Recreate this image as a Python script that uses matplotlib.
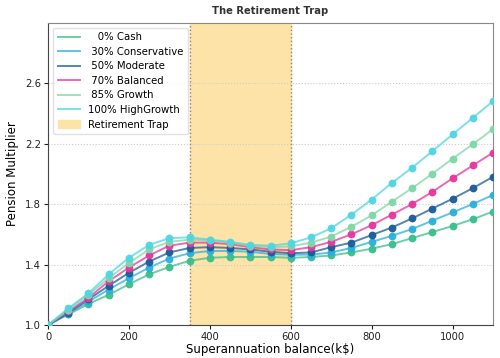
import matplotlib
matplotlib.use('Agg')
import matplotlib.pyplot as plt

# Data
balance = [0, 50, 100, 150, 200, 250, 300, 350, 400, 450, 500, 550,
           600, 650, 700, 750, 800, 850, 900, 950, 1000, 1050, 1100]

cash = [1.00, 1.07, 1.14, 1.20, 1.27, 1.335, 1.385, 1.425, 1.445, 1.45, 1.45, 1.45,
        1.445, 1.45, 1.46, 1.48, 1.505, 1.535, 1.575, 1.615, 1.655, 1.70, 1.75]
conservative = [1.00, 1.075, 1.155, 1.235, 1.31, 1.38, 1.44, 1.475, 1.49, 1.49, 1.485, 1.47,
                1.465, 1.465, 1.48, 1.51, 1.55, 1.59, 1.635, 1.69, 1.745, 1.80, 1.86]
moderate = [1.00, 1.08, 1.17, 1.26, 1.345, 1.42, 1.48, 1.51, 1.515, 1.51, 1.50, 1.485,
            1.475, 1.48, 1.515, 1.545, 1.595, 1.645, 1.705, 1.77, 1.835, 1.905, 1.98]
balanced = [1.00, 1.09, 1.18, 1.29, 1.38, 1.46, 1.525, 1.545, 1.545, 1.535, 1.515, 1.50,
            1.495, 1.515, 1.55, 1.60, 1.66, 1.73, 1.80, 1.88, 1.97, 2.055, 2.14]
growth = [1.00, 1.10, 1.20, 1.31, 1.41, 1.50, 1.55, 1.565, 1.56, 1.545, 1.525, 1.515,
          1.52, 1.545, 1.585, 1.65, 1.725, 1.815, 1.905, 2.00, 2.10, 2.195, 2.295]
high_growth = [1.00, 1.11, 1.21, 1.335, 1.445, 1.53, 1.575, 1.58, 1.565, 1.55, 1.53, 1.525,
               1.54, 1.58, 1.64, 1.73, 1.83, 1.94, 2.04, 2.15, 2.26, 2.37, 2.48]

labels = ['   0% Cash', ' 30% Conservative', ' 50% Moderate',
          ' 70% Balanced', ' 85% Growth', '100% HighGrowth']
colors = ['#3cbf8c', '#2bb0db', '#1c5d99', '#e8369e', '#7fd8a6', '#4fd6e2']
series = [cash, conservative, moderate, balanced, growth, high_growth]

trap_start, trap_end = 350, 600

fig = plt.figure(figsize=(5, 3.58), dpi=100)
ax = fig.add_axes([0.096, 0.092, 0.89, 0.845])

ax.axvspan(trap_start, trap_end, color='#fde3a8', label='Retirement Trap', zorder=0)
ax.axvline(trap_start, color='#888888', linestyle=':', linewidth=1, zorder=1)
ax.axvline(trap_end, color='#888888', linestyle=':', linewidth=1, zorder=1)

for vals, lab, c in zip(series, labels, colors):
    ax.plot(balance, vals, color=c, linewidth=1.4, alpha=0.75, label=lab, zorder=2)
    ax.plot(balance, vals, 'o', color=c, markersize=4.6, alpha=0.95, zorder=3)

ax.set_xlim(0, 1100)
ax.set_ylim(1.0, 3.0)
ax.set_yticks([1.0, 1.4, 1.8, 2.2, 2.6])
ax.set_xticks([0, 200, 400, 600, 800, 1000])
ax.grid(axis='y', linestyle=':', color='#cccccc', linewidth=0.8)
ax.set_axisbelow(True)

for side in ['left', 'bottom']:
    ax.spines[side].set_color('#444444')
for side in ['top', 'right']:
    ax.spines[side].set_color('#888888')
ax.tick_params(labelsize=7.2, colors='#222222', length=3, pad=2)

ax.set_xlabel('Superannuation balance(k$)', fontsize=8.5, labelpad=1)
ax.set_ylabel('Pension Multiplier', fontsize=8.5, labelpad=4)
ax.set_title('The Retirement Trap', fontsize=7.2, fontweight='bold', pad=6, color='#333333')

handles, labs = ax.get_legend_handles_labels()
order = [1, 2, 3, 4, 5, 6, 0]
ax.legend([handles[i] for i in order], [labs[i] for i in order],
          loc='upper left', fontsize=7.3, frameon=True, handlelength=2.2,
          labelspacing=0.45, borderpad=0.45, framealpha=0.9, edgecolor='#dddddd')

plt.savefig('out.png', dpi=100)
